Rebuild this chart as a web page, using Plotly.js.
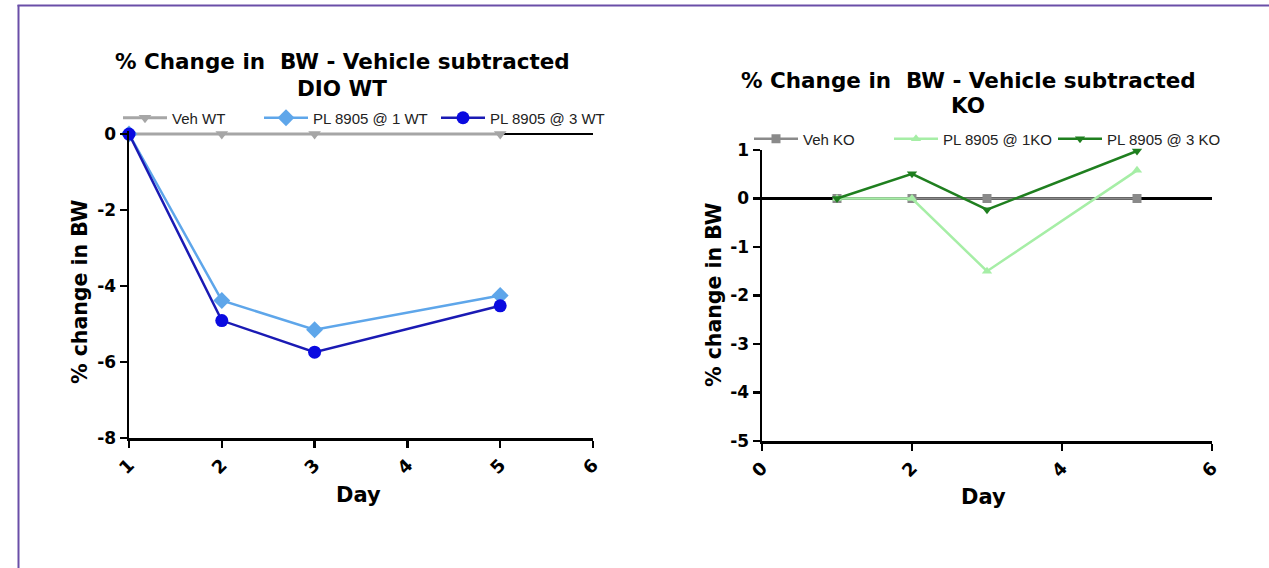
<!DOCTYPE html>
<html>
<head>
<meta charset="utf-8">
<script src="https://cdn.plot.ly/plotly-3.0.1.min.js"></script>
<style>
html,body{margin:0;padding:0;background:#fff;}
#chart{width:1269px;height:568px;}
</style>
</head>
<body>
<div id="chart"></div>
<script>
// ---- Data ----
const daysWT = [1, 2, 3, 5];
const vehWT = [0, 0, 0, 0];
const pl1WT = [0, -4.38, -5.15, -4.25];
const pl3WT = [0, -4.91, -5.74, -4.52];

const daysKO = [1, 2, 3, 5];
const vehKO = [0, 0, 0, 0];
const pl1KO = [0, 0, -1.50, 0.58];
const pl3KO = [0, 0.51, -0.23, 0.98];

const namesWT = ["Veh WT", "PL 8905 @ 1 WT", "PL 8905 @ 3 WT"];
const namesKO = ["Veh KO", "PL 8905 @ 1KO", "PL 8905 @ 3 KO"];

// tick values and labels
const xTicksWT = [1, 2, 3, 4, 5, 6];
const xTickTextWT = ["1", "2", "3", "4", "5", "6"];
const yTicksWT = [0, -2, -4, -6, -8];
const yTickTextWT = ["0", "-2", "-4", "-6", "-8"];
const xTicksKO = [0, 2, 4, 6];
const xTickTextKO = ["0", "2", "4", "6"];
const yTicksKO = [1, 0, -1, -2, -3, -4, -5];
const yTickTextKO = ["1", "0", "-1", "-2", "-3", "-4", "-5"];

const titleWT1 = "% Change in  BW - Vehicle subtracted";
const titleWT2 = "DIO WT";
const titleKO1 = "% Change in  BW - Vehicle subtracted";
const titleKO2 = "KO";
const yTitle = "% change in BW";
const xTitle = "Day";

const W = 1269, H = 568;
const px = v => v / W;
const py = v => 1 - v / H;

const FONT = "Liberation Sans, Arial, sans-serif";
const BFONT = "DejaVu Sans, Liberation Sans, sans-serif";
const YTICKF = {family: BFONT, size: 17, color: "#000", weight: 700};
const XTICKF = {family: BFONT, size: 18, color: "#000", weight: 700};

const traces = [
  {x: daysWT, y: vehWT, name: namesWT[0], mode: "lines+markers", xaxis: "x", yaxis: "y", legend: "legend",
   line: {color: "#a6a6a6", width: 3}, marker: {symbol: "triangle-down", size: 11, color: "#a6a6a6"}, cliponaxis: false},
  {x: daysWT, y: pl1WT, name: namesWT[1], mode: "lines+markers", xaxis: "x", yaxis: "y", legend: "legend2",
   line: {color: "#5ea6ea", width: 2.5}, marker: {symbol: "diamond", size: 13, color: "#5ea6ea"}, cliponaxis: false},
  {x: daysWT, y: pl3WT, name: namesWT[2], mode: "lines+markers", xaxis: "x", yaxis: "y", legend: "legend3",
   line: {color: "#1a1ab4", width: 2.5}, marker: {symbol: "circle", size: 13, color: "#0a0ae0"}, cliponaxis: false},
  {x: daysKO, y: vehKO, name: namesKO[0], mode: "lines+markers", xaxis: "x2", yaxis: "y2", legend: "legend4",
   line: {color: "#8a8a8a", width: 2.5}, marker: {symbol: "square", size: 9, color: "#8a8a8a"}, cliponaxis: false},
  {x: daysKO, y: pl1KO, name: namesKO[1], mode: "lines+markers", xaxis: "x2", yaxis: "y2", legend: "legend5",
   line: {color: "#a6eea6", width: 2.5}, marker: {symbol: "triangle-up", size: 9, color: "#a6eea6"}, cliponaxis: false},
  {x: daysKO, y: pl3KO, name: namesKO[2], mode: "lines+markers", xaxis: "x2", yaxis: "y2", legend: "legend6",
   line: {color: "#1f7f1f", width: 2.5}, marker: {symbol: "triangle-down", size: 9, color: "#1f7f1f"}, cliponaxis: false}
];

function leg(xLine, yMid) {
  return {x: px(xLine - 5), y: py(yMid), xanchor: "left", yanchor: "middle", orientation: "h",
    bgcolor: "rgba(0,0,0,0)", borderwidth: 0, itemwidth: 44, itemclick: false,
    font: {family: FONT, size: 15, color: "#222"}};
}

const axBase = {
  showgrid: false, showline: true, linecolor: "#000", linewidth: 2.5,
  ticks: "outside", ticklen: 7, tickwidth: 2.5, tickcolor: "#000",
  tickfont: YTICKF, fixedrange: true, tickmode: "array"
};

function ann(text, x, y, size, angle) {
  return {text: text, x: px(x), y: py(y), xref: "paper", yref: "paper", xanchor: "center", yanchor: "middle",
    showarrow: false, textangle: angle || 0, font: {family: BFONT, size: size, color: "#000", weight: 700}};
}

const layout = {
  width: W, height: H,
  margin: {l: 0, r: 0, t: 0, b: 0},
  paper_bgcolor: "#fff", plot_bgcolor: "#fff",
  showlegend: true,
  xaxis: Object.assign({}, axBase, {domain: [px(129), px(593)], range: [1, 6], tickvals: xTicksWT, ticktext: xTickTextWT, tickangle: -45, tickfont: XTICKF, zeroline: false, anchor: "y"}),
  yaxis: Object.assign({}, axBase, {domain: [py(438), py(131)], range: [-8, 0.08], tickvals: yTicksWT, ticktext: yTickTextWT, zeroline: true, zerolinecolor: "#000", zerolinewidth: 2.5, anchor: "x"}),
  xaxis2: Object.assign({}, axBase, {domain: [px(762), px(1212)], range: [0, 6], tickvals: xTicksKO, ticktext: xTickTextKO, tickangle: -45, tickfont: XTICKF, zeroline: false, anchor: "y2"}),
  yaxis2: Object.assign({}, axBase, {domain: [py(441), py(150)], range: [-5, 1], tickvals: yTicksKO, ticktext: yTickTextKO, zeroline: true, zerolinecolor: "#000", zerolinewidth: 2.5, anchor: "x2"}),
  legend: leg(123, 118),
  legend2: leg(264, 118),
  legend3: leg(441, 118),
  legend4: leg(754, 139),
  legend5: leg(894, 139),
  legend6: leg(1058, 139),
  annotations: [
    ann(titleWT1, 342, 62, 21.5),
    ann(titleWT2, 342, 88, 21.5),
    ann(titleKO1, 968, 80, 21.5),
    ann(titleKO2, 968, 105, 21.5),
    ann(yTitle, 80, 292, 20.5, -90),
    ann(yTitle, 714, 295, 20.5, -90),
    ann(xTitle, 358, 495, 21),
    ann(xTitle, 983, 497, 21)
  ],
  shapes: [
    {type: "line", xref: "paper", yref: "paper", x0: px(18.5), x1: px(18.5), y0: py(5), y1: 0, line: {color: "#6a4fa8", width: 2}},
    {type: "line", xref: "paper", yref: "paper", x0: px(17.5), x1: 1, y0: py(5.5), y1: py(5.5), line: {color: "#6a4fa8", width: 2}}
  ]
};

Plotly.newPlot("chart", traces, layout, {displayModeBar: false, staticPlot: true});
</script>
</body>
</html>
